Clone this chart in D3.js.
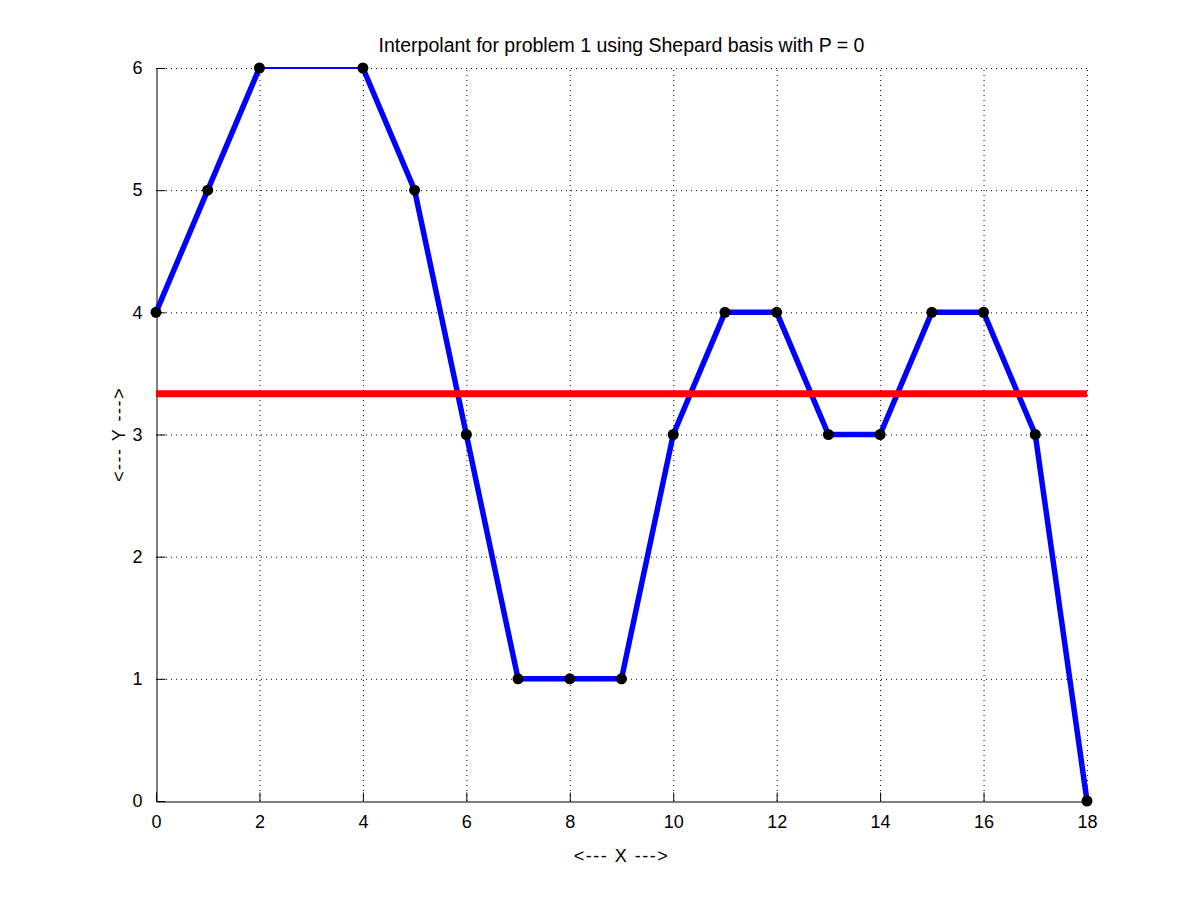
<!DOCTYPE html>
<html>
<head>
<meta charset="utf-8">
<script src="https://cdn.jsdelivr.net/npm/d3@7"></script>
<style>
  body { margin: 0; background: #fff; }
  svg text { font-family: "Liberation Sans", Arial, sans-serif; fill: #000; }
  .grid line { stroke: #000; stroke-dasharray: 1,4; stroke-width: 1; }
</style>
</head>
<body>
<div id="chart"></div>
<script>
// data
var xVals = [0, 1, 2, 4, 5, 6, 7, 8, 9, 10, 11, 12, 13, 14, 15, 16, 17, 18];
var yVals = [4, 5, 6, 6, 5, 3, 1, 1, 1, 3, 4, 4, 3, 3, 4, 4, 3, 0];
var xTicks = [0, 2, 4, 6, 8, 10, 12, 14, 16, 18];
var yTicks = [0, 1, 2, 3, 4, 5, 6];
var titleText = "Interpolant for problem 1 using Shepard basis with P = 0";

var width = 1200, height = 901;
var margin = {top: 68, right: 113, bottom: 100, left: 156};

var points = xVals.map(function (x, i) { return {x: x, y: yVals[i]}; });
var meanY = d3.mean(yVals);

// thick interpolant pieces: break where x jumps by more than 1
var pieces = [[points[0]]];
for (var i = 1; i < points.length; i++) {
    if (points[i].x - points[i - 1].x > 1) pieces.push([]);
    pieces[pieces.length - 1].push(points[i]);
}

var x = d3.scaleLinear().domain([0, 18]).range([margin.left, width - margin.right]);
var y = d3.scaleLinear().domain([0, 6]).range([height - margin.bottom, margin.top]);

var svg = d3.select("#chart").append("svg")
    .attr("width", width)
    .attr("height", height);

// grid
var grid = svg.append("g").attr("class", "grid");
grid.selectAll(".gx").data(xTicks.slice(1)).enter().append("line")
    .attr("x1", d => x(d) + 0.5).attr("x2", d => x(d) + 0.5)
    .attr("y1", y(0)).attr("y2", y(6));
grid.selectAll(".gy").data(yTicks.slice(1)).enter().append("line")
    .attr("y1", d => y(d) + 0.5).attr("y2", d => y(d) + 0.5)
    .attr("x1", x(0)).attr("x2", x(18));

// axes
var xAxis = d3.axisBottom(x).tickValues(xTicks).tickFormat(d3.format("d"))
    .tickSizeInner(-9).tickSizeOuter(0).tickPadding(14);
var yAxis = d3.axisLeft(y).tickValues(yTicks).tickFormat(d3.format("d"))
    .tickSizeInner(-9).tickSizeOuter(0).tickPadding(14);

var gx = svg.append("g")
    .attr("transform", "translate(0," + (y(0) + 0.5) + ")")
    .call(xAxis);
var gy = svg.append("g")
    .attr("transform", "translate(" + (x(0) + 0.5) + ",0)")
    .call(yAxis);
[gx, gy].forEach(function (g) {
    g.select(".domain").attr("stroke", "#000");
    g.selectAll(".tick line").attr("stroke", "#000");
    g.selectAll(".tick text").style("font-size", "18px").attr("fill", "#000");
});

// thin line through all data points
var line = d3.line().x(d => x(d.x)).y(d => y(d.y));
svg.append("path")
    .datum(points)
    .attr("d", line)
    .attr("fill", "none")
    .attr("stroke", "#0000ff")
    .attr("stroke-width", 2);

// thick interpolant
svg.selectAll(".interp").data(pieces).enter().append("path")
    .attr("class", "interp")
    .attr("d", line)
    .attr("fill", "none")
    .attr("stroke", "#0000ff")
    .attr("stroke-width", 5.5);

// mean line
svg.append("line")
    .attr("x1", x(0)).attr("x2", x(18))
    .attr("y1", y(meanY)).attr("y2", y(meanY))
    .attr("stroke", "#ff0000")
    .attr("stroke-width", 7);

// markers
svg.selectAll(".dot").data(points).enter().append("circle")
    .attr("cx", d => x(d.x))
    .attr("cy", d => y(d.y))
    .attr("r", 5.5)
    .attr("fill", "#000");

// labels
svg.append("text")
    .attr("x", (x(0) + x(18)) / 2)
    .attr("y", 52)
    .attr("text-anchor", "middle")
    .style("font-size", "19.5px")
    .text(titleText);

svg.append("text")
    .attr("x", (x(0) + x(18)) / 2)
    .attr("y", 862)
    .attr("text-anchor", "middle")
    .style("font-size", "18px")
    .style("letter-spacing", "1.5px")
    .text("<--- X --->");

svg.append("text")
    .attr("transform", "translate(125," + ((y(0) + y(6)) / 2) + ") rotate(-90)")
    .attr("text-anchor", "middle")
    .style("font-size", "18px")
    .style("letter-spacing", "1.5px")
    .text("<--- Y --->");
</script>
</body>
</html>
